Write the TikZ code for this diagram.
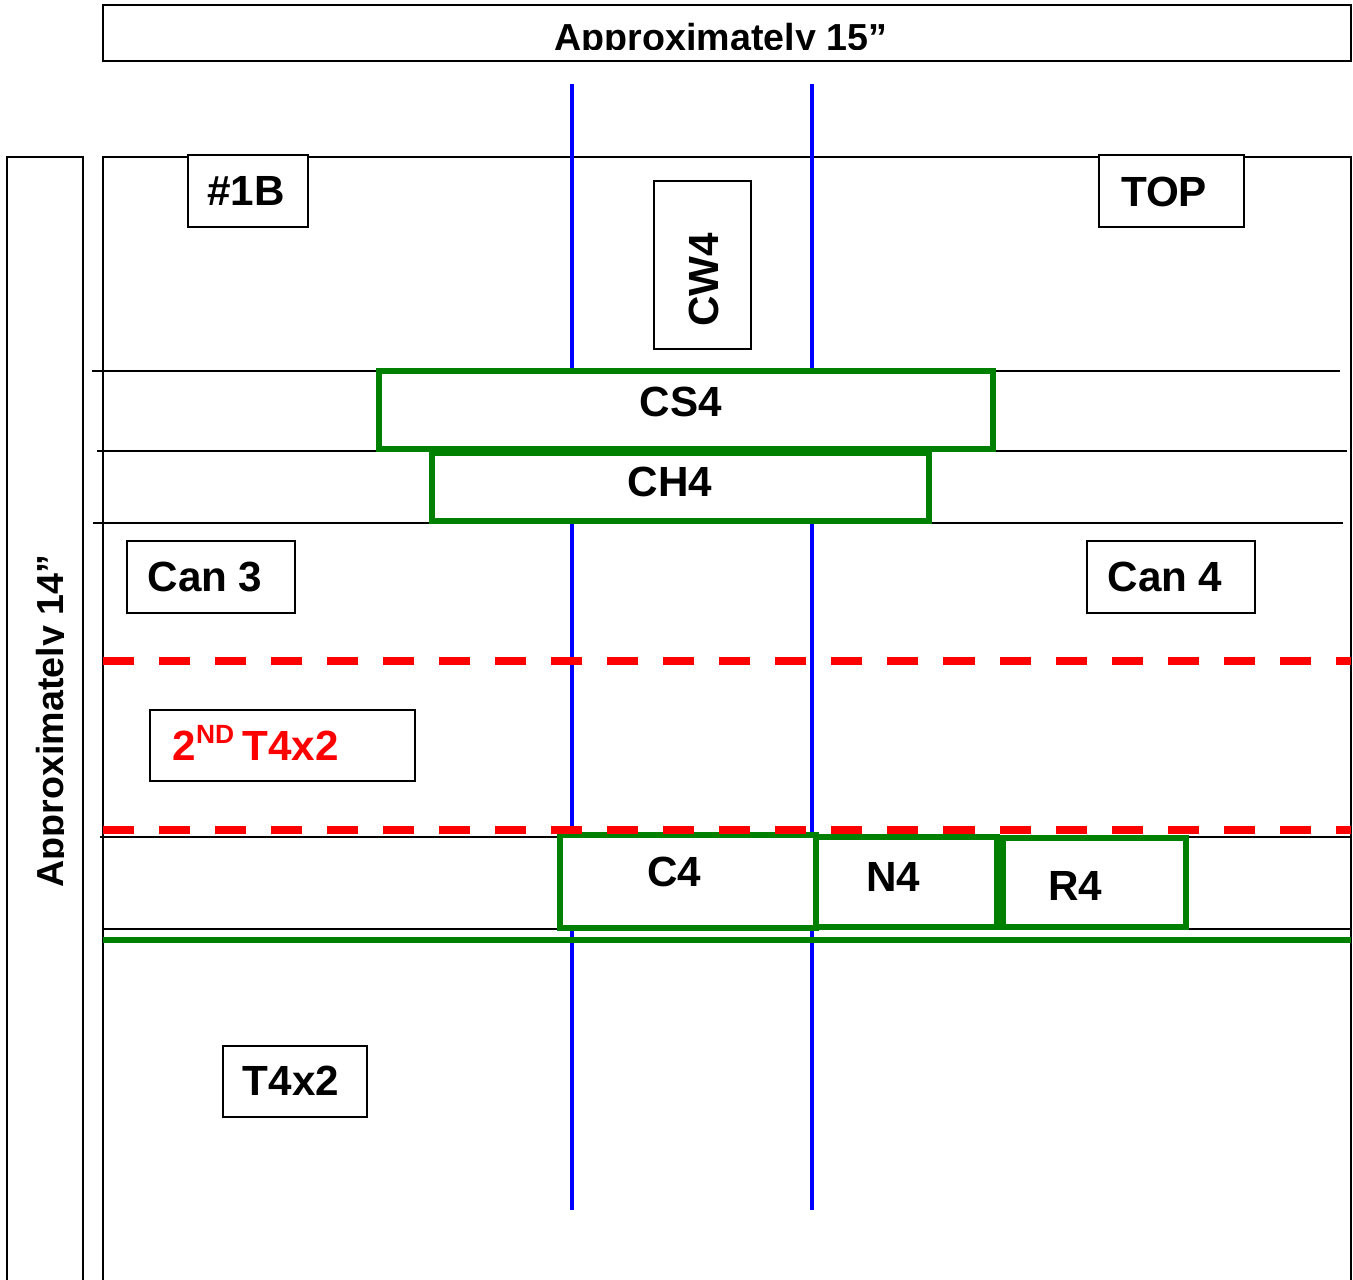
\documentclass[tikz,border=0pt]{standalone}
\usepackage{fontspec}
\setmainfont{Liberation Sans}
\usetikzlibrary{positioning}
\definecolor{boxgreen}{RGB}{0,128,0}

\begin{document}
\begin{tikzpicture}[
    x=0.01cm, y=-0.01cm,
    tbox/.style={draw=black, line width=0.6pt, fill=white, inner sep=0pt},
    gbox/.style={draw=boxgreen, line width=1.6pt, fill=white, inner sep=0pt},
    lbl/.style={text=black, font=\fontsize{12}{14}\selectfont\bfseries, inner sep=0pt},
    dim/.style={text=black, font=\fontsize{10.7}{12}\selectfont\bfseries, inner sep=0pt, anchor=base},
    rule/.style={black, line width=0.6pt},
    rail/.style={blue, line width=1.3pt},
    cut/.style={red, line width=2.5pt, dash pattern=on 0.31cm off 0.25cm}
]
\useasboundingbox (0,0) rectangle (1353,1280);

% ---------- Frames ----------
\draw[rule] (103,5) rectangle (1351,61);
\draw[rule] (7,157) rectangle (83,1290);
\draw[rule] (103,157) rectangle (1351,1290);

% ---------- Dimension labels (clipped) ----------
\begin{scope}
\clip (103,5) rectangle (1351,50);
\node[dim] (widthlbl) at (721,50.5) {Approximately 15”};
\end{scope}
\begin{scope}
\clip (7,157) rectangle (63.5,1280);
\node[dim, rotate=90] (heightlbl) at (63.5,721) {Approximately 14”};
\end{scope}

% ---------- Rails and rules ----------
\foreach \x in {572,812}
    \draw[rail] (\x,84) -- (\x,1210);
\foreach \y/\a/\b in {371/92/1340, 451/97/1347, 523/93/1343, 837/100/1351, 929/103/1351}
    \draw[rule] (\a,\y) -- (\b,\y);
\draw[boxgreen, line width=1.7pt] (103,940) -- (1351,940);

% ---------- Green boxes ----------
\node[gbox, minimum width=6.14cm, minimum height=0.78cm] (cs4) at (686,410) {};
\node[gbox, minimum width=4.97cm, minimum height=0.68cm] (ch4) at (680.5,487) {};
\node[gbox, minimum width=2.56cm, minimum height=0.93cm] (c4)  at (688,881.5) {};
\node[gbox, minimum width=1.81cm, minimum height=0.90cm] (n4)  at (906.5,882) {};
\node[gbox, minimum width=1.83cm, minimum height=0.89cm] (r4)  at (1094.5,882.5) {};

% ---------- Black boxes ----------
\node[tbox, minimum width=0.97cm, minimum height=1.68cm] (cw4)   at (702.5,265) {};
\node[tbox, minimum width=1.20cm, minimum height=0.72cm] (no1b)  at (248,191) {};
\node[tbox, minimum width=1.45cm, minimum height=0.72cm] (top)   at (1171.5,191) {};
\node[tbox, minimum width=1.68cm, minimum height=0.72cm] (can3)  at (211,577) {};
\node[tbox, minimum width=1.68cm, minimum height=0.72cm] (can4)  at (1171,577) {};
\node[tbox, minimum width=2.65cm, minimum height=0.71cm] (second) at (282.5,745.5) {};
\node[tbox, minimum width=1.44cm, minimum height=0.71cm] (t4x2)  at (295,1081.5) {};

% ---------- Red cut lines ----------
\foreach \y in {661,830}
    \draw[cut] (103,\y) -- (1351,\y);

% ---------- Labels ----------
\node[lbl] (no1btxt) at (246,191.5) {\#1B};
\node[lbl] (toptxt)  at (1164,192) {TOP};
\node[lbl, rotate=90] (cw4txt) at (703.5,280) {CW4};
\node[lbl] (cs4txt)  at (681,402) {CS4};
\node[lbl] (ch4txt)  at (670,482) {CH4};
\node[lbl] (can3txt) at (205,577) {Can 3};
\node[lbl] (can4txt) at (1165,577) {Can 4};
\node[lbl, text=red, anchor=base west] (secondtxt) at (172,761)
    {2\raisebox{0.42em}{\fontsize{7.5}{8}\selectfont ND}\hspace{-0.08em} T4x2};
\node[lbl] (c4txt)   at (674.5,872) {C4};
\node[lbl] (n4txt)   at (893,877) {N4};
\node[lbl] (r4txt)   at (1075,886) {R4};
\node[lbl] (t4x2txt) at (291,1081) {T4x2};

\end{tikzpicture}
\end{document}
